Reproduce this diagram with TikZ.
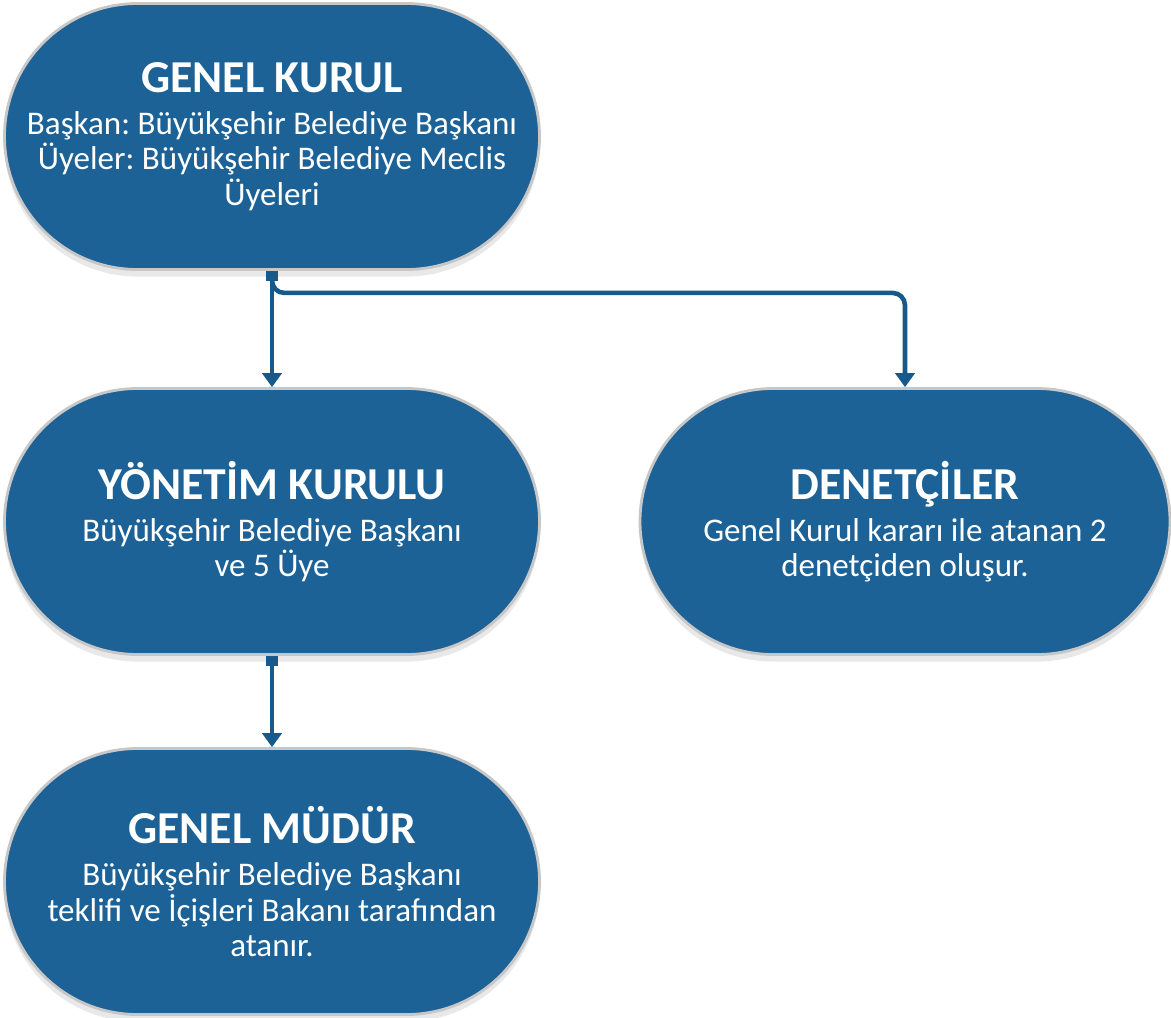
\documentclass[tikz,border=0pt]{standalone}
\usepackage{fontspec}
\setmainfont{Carlito}
\frenchspacing
\usetikzlibrary{arrows.meta,shadows}
\definecolor{boxblue}{RGB}{29,98,150}
\definecolor{lineblue}{RGB}{24,89,140}
\tikzset{
	unit/.style={rectangle, rounded corners=2.66cm, minimum width=10.7cm, minimum height=5.32cm,
		inner sep=0pt, fill=boxblue, draw=black!22, line width=1.6pt, text=white, align=center,
		font=\fontsize{18.8}{20}\selectfont,
		drop shadow={opacity=0.18, shadow xshift=0pt, shadow yshift=-4pt}},
	link/.style={lineblue, line width=2.6pt, rounded corners=7pt,
		{Square[length=6pt,width=7pt]}-{Triangle[length=8pt,width=11pt]}}
}
\newcommand{\unittitle}[1]{{\fontsize{26}{24}\selectfont\bfseries #1}\\[4pt]}
\begin{document}
\begin{tikzpicture}
	\useasboundingbox (0,0) rectangle (23.42,-20.34);
	%boxes
	\node[unit] (gk) at (5.44,-2.73) {\unittitle{GENEL KURUL}
		Başkan: Büyükşehir Belediye Başkanı\\
		Üyeler: Büyükşehir Belediye Meclis\\
		Üyeleri};
	\node[unit] (yk) at (5.44,-10.43) {\unittitle{YÖNETİM KURULU}
		Büyükşehir Belediye Başkanı\\
		ve 5 Üye};
	\node[unit, minimum width=10.6cm] (dn) at (18.1,-10.43) {\unittitle{DENETÇİLER}
		Genel Kurul kararı ile atanan 2\\
		denetçiden oluşur.};
	\node[unit] (gm) at (5.44,-17.63) {\unittitle{GENEL MÜDÜR}
		Büyükşehir Belediye Başkanı\\
		teklifi ve İçişleri Bakanı tarafından\\
		atanır.};
	
	%connectors
	\coordinate (bend) at ([yshift=-0.44cm]gk.south);
	\draw[link] (gk.south) -- (yk.north);
	\draw[link] (gk.south) -- (bend) -| (dn.north);
	\draw[link] (yk.south) -- (gm.north);
\end{tikzpicture}
\end{document}
